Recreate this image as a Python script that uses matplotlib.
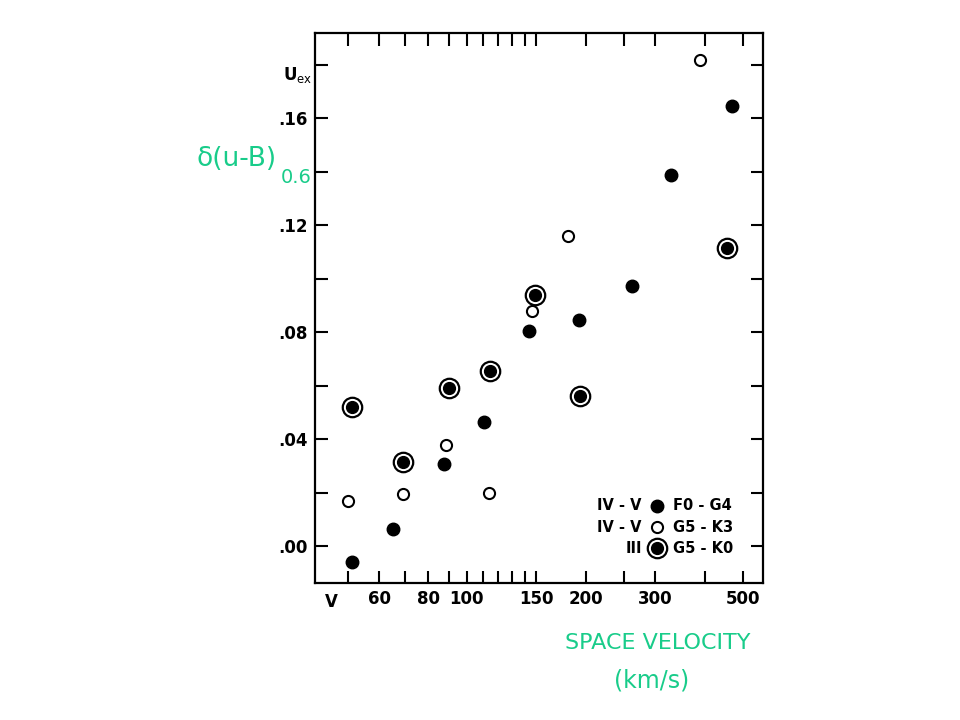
import numpy as np
import matplotlib
matplotlib.use("Agg")
import matplotlib.pyplot as plt

# F0-G4, luminosity IV-V (filled dots)
v_f0g4 = [51.2, 65.0, 87.7, 110.6, 144.1, 192.3, 261.8, 328.6, 468.8]
u_f0g4 = [-0.006, 0.0066, 0.0307, 0.0465, 0.0805, 0.0847, 0.0972, 0.1387, 0.1646]

# G5-K3, luminosity IV-V (open circles)
v_g5k3 = [50.1, 69.1, 88.6, 114.0, 146.6, 180.7, 389.7]
u_g5k3 = [0.0169, 0.0197, 0.0378, 0.0199, 0.088, 0.116, 0.1817]

# G5-K0, luminosity III (ringed dots)
v_giant = [51.2, 69.1, 90.4, 114.6, 149.0, 193.6, 455.3]
u_giant = [0.0521, 0.0315, 0.0592, 0.0654, 0.0938, 0.0561, 0.1113]

xticks = [50, 60, 80, 100, 150, 200, 300, 500]
xlabels = ["", "60", "80", "100", "150", "200", "300", "500"]
xminor = [70, 90, 110, 120, 130, 140, 250, 400]
yticks = [0.00, 0.04, 0.08, 0.12, 0.16]
ylabels = [".00", ".04", ".08", ".12", ".16"]
yminor = [0.02, 0.06, 0.10, 0.14, 0.18]

green = "#19cc8a"

fig = plt.figure(figsize=(9.6, 7.2), dpi=100)
ax = fig.add_axes([0.328, 0.190, 0.467, 0.764])

ax.plot(v_f0g4, u_f0g4, "o", ms=9, mfc="black", mec="black", ls="none")
ax.plot(v_g5k3, u_g5k3, "o", ms=8, mfc="white", mec="black", mew=1.5, ls="none")
ax.plot(v_giant, u_giant, "o", ms=14, mfc="white", mec="black", mew=1.6, ls="none")
ax.plot(v_giant, u_giant, "o", ms=8.5, mfc="black", mec="black", ls="none")

ax.set_xscale("log")
ax.set_xlim(41.3, 562)
ax.set_ylim(-0.0138, 0.1918)

ax.set_xticks(xticks)
ax.set_xticklabels(xlabels)
ax.set_xticks(xminor, minor=True)
ax.set_xticklabels([], minor=True)
ax.set_yticks(yticks)
ax.set_yticklabels(ylabels)
ax.set_yticks(yminor, minor=True)

ax.tick_params(which="both", direction="in", length=9, width=1.5,
               top=True, right=True, labelsize=12, pad=5)
for lab in ax.get_xticklabels() + ax.get_yticklabels():
    lab.set_fontweight("bold")
for s in ax.spines.values():
    s.set_linewidth(1.6)

ax.text(-0.005, 0.176, r"U$_{\rm ex}$", transform=ax.get_yaxis_transform(),
        ha="right", va="center", fontsize=12, fontweight="bold")
ax.text(45.5, -0.018, "V", transform=ax.get_xaxis_transform(),
        ha="center", va="top", fontsize=12, fontweight="bold")

# legend drawn as text, like the original
rows_y = [0.0151, 0.0071, -0.0007]
left = ["IV - V", "IV - V", "III"]
right = ["F0 - G4", "G5 - K3", "G5 - K0"]
mx = 303
for y, l, r in zip(rows_y, left, right):
    ax.text(mx * 0.915, y, l, ha="right", va="center", fontsize=10.5,
            fontweight="bold")
    ax.text(mx * 1.095, y, r, ha="left", va="center", fontsize=10.5,
            fontweight="bold")
ax.plot([mx], [rows_y[0]], "o", ms=9, mfc="black", mec="black")
ax.plot([mx], [rows_y[1]], "o", ms=8, mfc="white", mec="black", mew=1.5)
ax.plot([mx], [rows_y[2]], "o", ms=14, mfc="white", mec="black", mew=1.6)
ax.plot([mx], [rows_y[2]], "o", ms=8.5, mfc="black", mec="black")

# handwritten annotations
fig.text(0.205, 0.779, "δ(u-B)", color=green, fontsize=19,
         ha="left", va="center")
fig.text(0.292, 0.753, "0.6", color=green, fontsize=14, ha="left", va="center")
fig.text(0.685, 0.107, "SPACE VELOCITY", color=green, fontsize=16,
         ha="center", va="center")
fig.text(0.679, 0.055, "(km/s)", color=green, fontsize=17,
         ha="center", va="center")

fig.savefig("out.png", dpi=100)
